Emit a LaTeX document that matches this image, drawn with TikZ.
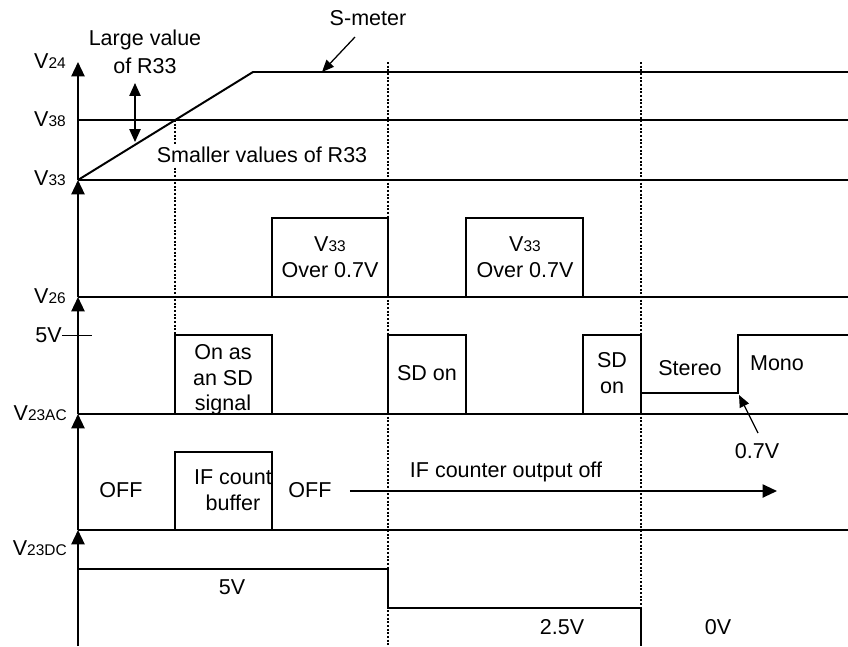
\documentclass[tikz,border=0pt]{standalone}
\usepackage{fontspec}
\setmainfont{Liberation Sans}
\usepackage{tikz}
\usetikzlibrary{arrows.meta}

\newcommand{\Vsub}[1]{V{\fontsize{11}{13}\selectfont #1}}

\begin{document}
\begin{tikzpicture}[x=0.025cm,y=-0.025cm,>={Triangle[length=0.36cm,width=0.33cm]},
	sig/.style={line width=1.4pt},
	guide/.style={dash pattern=on 1.4pt off 1.2pt,line width=0.75pt},
	txt/.style={font=\fontsize{15.3}{18.2}\selectfont,inner sep=0pt,align=center},
	thinarr/.style={line width=0.9pt,-{Triangle[length=0.3cm,width=0.25cm]}}]
			\useasboundingbox (0,0) rectangle (848,646);
			
			% guide lines
			\draw[guide] (175,120)--(175,335);
			\draw[guide] (388,62)--(388,646);
			\draw[guide] (641,62)--(641,646);
			
			% axis
			\foreach \a/\b in {646/530,530/414,414/297,297/180,180/62}
			\draw[sig,->] (78,\a)--(78,\b);
			
			% S-meter
			\draw[sig] (78,180)--(253,72)--(848,72);
			\draw[sig] (78,120)--(848,120);
			\draw[sig] (78,180)--(848,180);
			
			% V26
			\draw[sig] (78,297)--(848,297);
			\draw[sig] (272,297) |- (388,218)--(388,297);
			\draw[sig] (466,297) |- (583,218)--(583,297);
			
			% V23AC
			\draw[sig] (78,414)--(848,414);
			\draw[sig] (175,414) |- (272,335)--(272,414);
			\draw[sig] (388,414) |- (466,335)--(466,414);
			\draw[sig] (583,414) |- (641,335)--(641,414);
			\draw[sig] (641,393)--(738,393)--(738,335)--(848,335);
			\draw[line width=0.7pt] (62,335)--(92,335);
			
			% IF counter
			\draw[sig] (78,530)--(848,530);
			\draw[sig] (175,530) |- (272,452)--(272,530);
			
			% V23DC
			\draw[sig] (78,569)--(388,569)--(388,608)--(641,608)--(641,646);
			
			% axis labels
			\node[txt,anchor=east] (v24) at (66,61) {\Vsub{24}};
			\node[txt,anchor=east] (v38) at (66,119) {\Vsub{38}};
			\node[txt,anchor=east] (v33) at (66,178) {\Vsub{33}};
			\node[txt,anchor=east] (v26) at (66,296) {\Vsub{26}};
			\node[txt,anchor=east] (v23ac) at (67,413) {\Vsub{23AC}};
			\node[txt,anchor=east] (v23dc) at (67,548) {\Vsub{23DC}};
			\node[txt,anchor=east] (five) at (62,335) {5V};
			
			% texts
			\node[txt] (smeter) at (368,18) {S-meter};
			\node[txt] (large) at (145,52) {Large value\\[1.5pt]of R33};
			\node[txt,fill=white,inner sep=2pt] (smaller) at (262,155) {Smaller values of R33};
			\node[txt] (over1) at (330,257) {\Vsub{33}\\Over 0.7V};
			\node[txt] (over2) at (525,257) {\Vsub{33}\\Over 0.7V};
			\node[txt] (sdsig) at (223,380) {On as\\an SD\\signal};
			\node[txt] (sdon) at (427,373) {SD on};
			\node[txt] (sdon2) at (612,373) {SD\\on};
			\node[txt] (stereo) at (690,368) {Stereo};
			\node[txt] (mono) at (777,363) {Mono};
			\node[txt] (lbl07) at (757,451) {0.7V};
			\node[txt] (off1) at (121,490) {OFF};
			\node[txt] (ifbuf) at (233,490) {IF count\\buffer};
			\node[txt] (off2) at (310,490) {OFF};
			\node[txt] (ifoff) at (506,472) {IF counter output off};
			\node[txt] (dc5) at (232,587) {5V};
			\node[txt] (dc25) at (562,627) {2.5V};
			\node[txt] (dc0) at (718,627) {0V};
			
			% pointers
			\coordinate (smtip) at (322,72);
			\coordinate (stip) at (739,395);
			\coordinate (dtop) at (135,83);
			\coordinate (dbot) at (135,142);
			\coordinate (ifend) at (777,491);
			\draw[thinarr] ([shift={(-13,19)}]smeter.center)--(smtip);
			\draw[thinarr] ([shift={(1,-18)}]lbl07.center)--(stip);
			\draw[line width=0.9pt,{Triangle[length=0.32cm,width=0.28cm]}-{Triangle[length=0.32cm,width=0.28cm]}] (dtop)--(dbot);
			\draw[line width=1.1pt,->] ([shift={(18,1)}]off2.east)--(ifend);
\end{tikzpicture}
\end{document}
